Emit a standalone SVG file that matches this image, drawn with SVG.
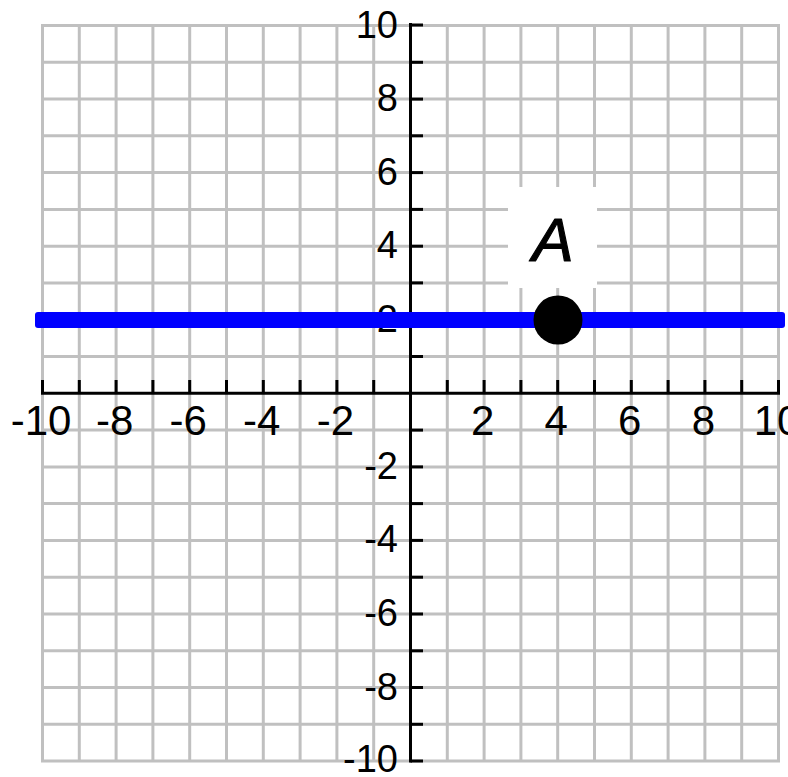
<svg xmlns="http://www.w3.org/2000/svg" width="788" height="777" viewBox="0 0 788 777">
<style>
.grid line{stroke:#c0c0c0;stroke-width:3}
.axis line{stroke:#000;stroke-width:3}
.xl{font-family:"Liberation Sans",Arial,sans-serif;font-size:42px;fill:#000;text-anchor:middle}
.yl{font-family:"Liberation Sans",Arial,sans-serif;font-size:38px;fill:#000;text-anchor:end}
</style>
<rect width="788" height="777" fill="#fff"/>
<g id="grid" class="grid">
<line x1="42.5" y1="24" x2="42.5" y2="762"/>
<line x1="79.3" y1="24" x2="79.3" y2="762"/>
<line x1="116.1" y1="24" x2="116.1" y2="762"/>
<line x1="152.9" y1="24" x2="152.9" y2="762"/>
<line x1="189.7" y1="24" x2="189.7" y2="762"/>
<line x1="226.5" y1="24" x2="226.5" y2="762"/>
<line x1="263.3" y1="24" x2="263.3" y2="762"/>
<line x1="300.1" y1="24" x2="300.1" y2="762"/>
<line x1="336.9" y1="24" x2="336.9" y2="762"/>
<line x1="373.7" y1="24" x2="373.7" y2="762"/>
<line x1="447.3" y1="24" x2="447.3" y2="762"/>
<line x1="484.1" y1="24" x2="484.1" y2="762"/>
<line x1="520.9" y1="24" x2="520.9" y2="762"/>
<line x1="557.7" y1="24" x2="557.7" y2="762"/>
<line x1="594.5" y1="24" x2="594.5" y2="762"/>
<line x1="631.3" y1="24" x2="631.3" y2="762"/>
<line x1="668.1" y1="24" x2="668.1" y2="762"/>
<line x1="704.9" y1="24" x2="704.9" y2="762"/>
<line x1="741.7" y1="24" x2="741.7" y2="762"/>
<line x1="778.5" y1="24" x2="778.5" y2="762"/>
<line x1="41" y1="25.5" x2="780" y2="25.5"/>
<line x1="41" y1="62.3" x2="780" y2="62.3"/>
<line x1="41" y1="99.1" x2="780" y2="99.1"/>
<line x1="41" y1="135.8" x2="780" y2="135.8"/>
<line x1="41" y1="172.6" x2="780" y2="172.6"/>
<line x1="41" y1="209.4" x2="780" y2="209.4"/>
<line x1="41" y1="246.2" x2="780" y2="246.2"/>
<line x1="41" y1="282.9" x2="780" y2="282.9"/>
<line x1="41" y1="319.7" x2="780" y2="319.7"/>
<line x1="41" y1="356.5" x2="780" y2="356.5"/>
<line x1="41" y1="430.1" x2="780" y2="430.1"/>
<line x1="41" y1="466.9" x2="780" y2="466.9"/>
<line x1="41" y1="503.6" x2="780" y2="503.6"/>
<line x1="41" y1="540.4" x2="780" y2="540.4"/>
<line x1="41" y1="577.2" x2="780" y2="577.2"/>
<line x1="41" y1="614" x2="780" y2="614"/>
<line x1="41" y1="650.8" x2="780" y2="650.8"/>
<line x1="41" y1="687.5" x2="780" y2="687.5"/>
<line x1="41" y1="724.3" x2="780" y2="724.3"/>
<line x1="41" y1="761.1" x2="780" y2="761.1"/>
</g>
<rect id="label-bg" x="508" y="187" width="89" height="101" fill="#fff"/>
<g id="axes" class="axis">
<line x1="41" y1="393.3" x2="780" y2="393.3"/>
<line x1="410.5" y1="23" x2="410.5" y2="762.5"/>
<g id="x-ticks">
<line x1="42.5" y1="380" x2="42.5" y2="393"/>
<line x1="79.3" y1="380" x2="79.3" y2="393"/>
<line x1="116.1" y1="380" x2="116.1" y2="393"/>
<line x1="152.9" y1="380" x2="152.9" y2="393"/>
<line x1="189.7" y1="380" x2="189.7" y2="393"/>
<line x1="226.5" y1="380" x2="226.5" y2="393"/>
<line x1="263.3" y1="380" x2="263.3" y2="393"/>
<line x1="300.1" y1="380" x2="300.1" y2="393"/>
<line x1="336.9" y1="380" x2="336.9" y2="393"/>
<line x1="373.7" y1="380" x2="373.7" y2="393"/>
<line x1="447.3" y1="380" x2="447.3" y2="393"/>
<line x1="484.1" y1="380" x2="484.1" y2="393"/>
<line x1="520.9" y1="380" x2="520.9" y2="393"/>
<line x1="557.7" y1="380" x2="557.7" y2="393"/>
<line x1="594.5" y1="380" x2="594.5" y2="393"/>
<line x1="631.3" y1="380" x2="631.3" y2="393"/>
<line x1="668.1" y1="380" x2="668.1" y2="393"/>
<line x1="704.9" y1="380" x2="704.9" y2="393"/>
<line x1="741.7" y1="380" x2="741.7" y2="393"/>
<line x1="778.5" y1="380" x2="778.5" y2="393"/>
</g>
<g id="y-ticks">
<line x1="410.5" y1="25" x2="423" y2="25"/>
<line x1="410.5" y1="62.3" x2="423" y2="62.3"/>
<line x1="410.5" y1="99.1" x2="423" y2="99.1"/>
<line x1="410.5" y1="135.8" x2="423" y2="135.8"/>
<line x1="410.5" y1="172.6" x2="423" y2="172.6"/>
<line x1="410.5" y1="209.4" x2="423" y2="209.4"/>
<line x1="410.5" y1="246.2" x2="423" y2="246.2"/>
<line x1="410.5" y1="282.9" x2="423" y2="282.9"/>
<line x1="410.5" y1="319.7" x2="423" y2="319.7"/>
<line x1="410.5" y1="356.5" x2="423" y2="356.5"/>
<line x1="410.5" y1="430.1" x2="423" y2="430.1"/>
<line x1="410.5" y1="466.9" x2="423" y2="466.9"/>
<line x1="410.5" y1="503.6" x2="423" y2="503.6"/>
<line x1="410.5" y1="540.4" x2="423" y2="540.4"/>
<line x1="410.5" y1="577.2" x2="423" y2="577.2"/>
<line x1="410.5" y1="614" x2="423" y2="614"/>
<line x1="410.5" y1="650.8" x2="423" y2="650.8"/>
<line x1="410.5" y1="687.5" x2="423" y2="687.5"/>
<line x1="410.5" y1="724.3" x2="423" y2="724.3"/>
<line x1="410.5" y1="761" x2="423" y2="761"/>
</g>
</g>
<g id="x-labels">
<text class="xl" x="41" y="435">-10</text>
<text class="xl" x="114.6" y="435">-8</text>
<text class="xl" x="188.2" y="435">-6</text>
<text class="xl" x="261.8" y="435">-4</text>
<text class="xl" x="335.4" y="435">-2</text>
<text class="xl" x="482.6" y="435">2</text>
<text class="xl" x="556.2" y="435">4</text>
<text class="xl" x="629.8" y="435">6</text>
<text class="xl" x="703.4" y="435">8</text>
<text class="xl" x="777" y="435">10</text>
</g>
<g id="y-labels">
<text class="yl" x="398" y="37.5">10</text>
<text class="yl" x="398" y="111">8</text>
<text class="yl" x="398" y="184.6">6</text>
<text class="yl" x="398" y="258.2">4</text>
<text class="yl" x="398" y="331.7">2</text>
<text class="yl" x="398" y="478.9">-2</text>
<text class="yl" x="398" y="552.4">-4</text>
<text class="yl" x="398" y="626">-6</text>
<text class="yl" x="398" y="699.5">-8</text>
<text class="yl" x="398" y="772">-10</text>
</g>
<g id="line">
<rect x="35" y="312" width="750" height="16" rx="3" fill="#0000ff"/>
</g>
<g id="point-A">
<circle cx="558" cy="320" r="24.5" fill="#000"/>
<text x="553" y="261" font-family="Liberation Sans,Arial,sans-serif" font-style="italic" font-size="62" fill="#000" stroke="#000" stroke-width="1.2" stroke-linejoin="round" text-anchor="middle">A</text>
</g>
</svg>
